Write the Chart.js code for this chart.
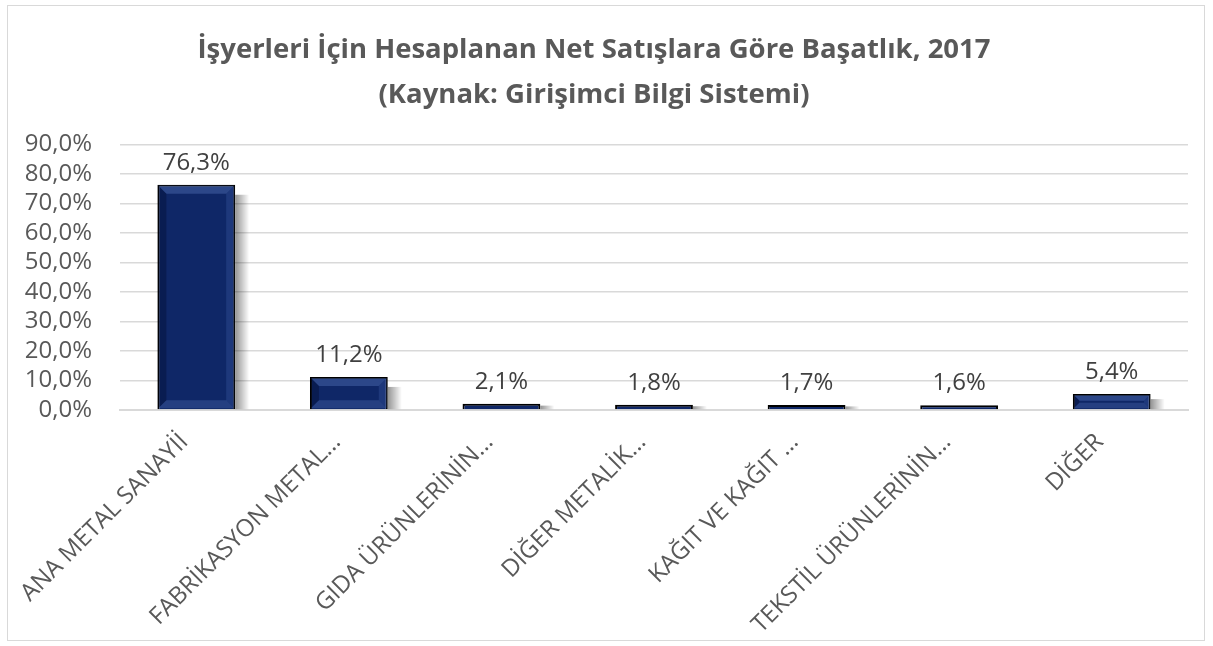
<!DOCTYPE html>
<html>
<head>
<meta charset="utf-8">
<script src="https://cdn.jsdelivr.net/npm/chart.js@4"></script>
<style>
  html, body { margin: 0; padding: 0; background: #fff; }
  #wrap { position: absolute; left: 7px; top: 5px; width: 1198px; height: 636px; border: 1px solid #d9d9d9; box-sizing: border-box; }
  #chart { position: absolute; left: 0; top: 0; }
</style>
</head>
<body>
<div id="wrap"></div>
<canvas id="chart" width="1213" height="646"></canvas>
<script>
const categories = [
  "ANA METAL SANAYİİ",
  "FABRİKASYON METAL…",
  "GIDA ÜRÜNLERİNİN…",
  "DİĞER METALİK…",
  "KAĞIT VE KAĞIT …",
  "TEKSTİL ÜRÜNLERİNİN…",
  "DİĞER"
];
const shares = [76.3, 11.2, 2.1, 1.8, 1.7, 1.6, 5.4];
const titleLines = [
  "İşyerleri İçin Hesaplanan Net Satışlara Göre Başatlık, 2017",
  "(Kaynak: Girişimci Bilgi Sistemi)"
];

const fontFamily = "'Open Sans', 'DejaVu Sans', sans-serif";
const textGray = "#595959";

function formatPct(v) {
  return v.toFixed(1).replace(".", ",") + "%";
}

// gray fade to the right of each bar, like the office drop shadow
const shadowPlugin = {
  id: "barShadow",
  beforeDatasetsDraw(chart) {
    const ctx = chart.ctx;
    const meta = chart.getDatasetMeta(0);
    ctx.save();
    meta.data.forEach(bar => {
      const right = bar.x + bar.width / 2;
      const h = bar.base - bar.y;
      if (h < 4) return;
      const top = bar.y + Math.min(10, h / 3);
      const g = ctx.createLinearGradient(right, 0, right + 14, 0);
      g.addColorStop(0, "rgba(0,0,0,0.42)");
      g.addColorStop(1, "rgba(0,0,0,0)");
      ctx.fillStyle = g;
      ctx.fillRect(right, top, 14, bar.base - top);
    });
    ctx.restore();
  }
};

// bevel look + value labels
const bevelPlugin = {
  id: "bevelLabels",
  afterDatasetsDraw(chart) {
    const ctx = chart.ctx;
    const meta = chart.getDatasetMeta(0);
    meta.data.forEach((bar, i) => {
      const left = bar.x - bar.width / 2 + 1;
      const right = bar.x + bar.width / 2 - 1;
      const top = bar.y + 1;
      const bottom = bar.base - 1;
      const inset = Math.min(8, (bottom - top) / 2 - 1, bar.width / 4);
      ctx.save();
      if (inset > 1) {
        ctx.fillStyle = "rgba(80,110,180,0.45)";
        ctx.beginPath();
        ctx.moveTo(left, top); ctx.lineTo(right, top);
        ctx.lineTo(right - inset, top + inset); ctx.lineTo(left + inset, top + inset);
        ctx.closePath(); ctx.fill();
        ctx.fillStyle = "rgba(60,90,160,0.35)";
        ctx.beginPath();
        ctx.moveTo(right, top); ctx.lineTo(right, bottom);
        ctx.lineTo(right - inset, bottom - inset); ctx.lineTo(right - inset, top + inset);
        ctx.closePath(); ctx.fill();
        ctx.fillStyle = "rgba(0,10,40,0.35)";
        ctx.beginPath();
        ctx.moveTo(left, top); ctx.lineTo(left, bottom);
        ctx.lineTo(left + inset, bottom - inset); ctx.lineTo(left + inset, top + inset);
        ctx.closePath(); ctx.fill();
        ctx.fillStyle = "rgba(70,100,170,0.4)";
        ctx.beginPath();
        ctx.moveTo(left, bottom); ctx.lineTo(right, bottom);
        ctx.lineTo(right - inset, bottom - inset); ctx.lineTo(left + inset, bottom - inset);
        ctx.closePath(); ctx.fill();
      }
      ctx.fillStyle = "#404040";
      ctx.font = "24px " + fontFamily;
      ctx.textAlign = "center";
      ctx.textBaseline = "bottom";
      ctx.fillText(formatPct(shares[i]), bar.x, bar.y - 10);
      ctx.restore();
    });
  }
};

new Chart(document.getElementById("chart").getContext("2d"), {
  type: "bar",
  data: {
    labels: categories,
    datasets: [{
      data: shares,
      backgroundColor: "#0f2767",
      borderColor: "#000000",
      borderWidth: 2,
      categoryPercentage: 1,
      barPercentage: 0.51
    }]
  },
  options: {
    responsive: false,
    animation: false,
    layout: { padding: { left: 0, right: 25, top: 10, bottom: 0 } },
    plugins: {
      legend: { display: false },
      tooltip: { enabled: false },
      title: {
        display: true,
        text: titleLines,
        color: textGray,
        font: { family: fontFamily, size: 27.5, weight: "bold", lineHeight: 1.66 },
        padding: { top: 17, bottom: 26 }
      }
    },
    scales: {
      x: {
        grid: { display: false, drawTicks: false },
        border: { color: "#d9d9d9", width: 2 },
        afterFit: scale => { scale.height = 236; },
        ticks: {
          color: textGray,
          font: { family: fontFamily, size: 24 },
          maxRotation: 45,
          minRotation: 45,
          autoSkip: false,
          padding: 18,
          labelOffset: -12
        }
      },
      y: {
        min: 0,
        max: 90,
        grid: { color: "#d9d9d9", lineWidth: 1.5, drawTicks: false },
        border: { display: false },
        afterFit: scale => { scale.width = 120; },
        ticks: {
          stepSize: 10,
          autoSkip: false,
          color: textGray,
          font: { family: fontFamily, size: 24 },
          padding: 28,
          callback: v => formatPct(v)
        }
      }
    }
  },
  plugins: [shadowPlugin, bevelPlugin]
});
</script>
</body>
</html>
